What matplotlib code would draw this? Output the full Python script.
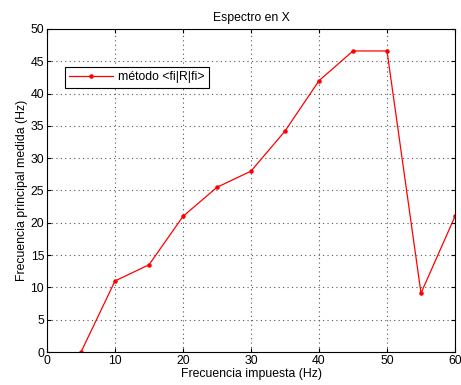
import matplotlib.pyplot as plt

# frecuencia impuesta vs frecuencia principal medida
freq_impuesta = [5, 10, 15, 20, 25, 30, 35, 40, 45, 50, 55, 60]
freq_medida = [0, 11, 13.5, 21, 25.5, 28, 34.2, 42, 46.6, 46.6, 9.1, 21]

plt.rcParams['font.family'] = 'Liberation Sans'
plt.rcParams['font.size'] = 8.8

fig = plt.figure(figsize=(4.61, 3.85), dpi=100)
ax = fig.add_axes([0.102, 0.0857, 0.885, 0.839])

ax.plot(freq_impuesta, freq_medida, color='red', linewidth=0.9,
        marker='.', markersize=4.5, label='método <fi|R|fi>')

ax.set_xlim(0, 60)
ax.set_ylim(0, 50)
ax.set_xticks(range(0, 61, 10))
ax.set_yticks(range(0, 51, 5))
ax.grid(True, linestyle=(0, (1, 3)), color='#555555', linewidth=0.8)
ax.tick_params(direction='in', length=3, top=True, right=True, pad=2)
for s in ax.spines.values():
    s.set_linewidth(0.8)

ax.set_title('Espectro en X', fontsize=8.8, pad=6)
ax.set_xlabel('Frecuencia impuesta (Hz)', labelpad=1)
ax.set_ylabel('Frecuencia principal medida (Hz)', labelpad=2)

leg = ax.legend(loc='upper left', bbox_to_anchor=(0.044, 0.882),
                borderaxespad=0, fancybox=False, edgecolor='black',
                framealpha=1, borderpad=0.35, handlelength=3.6,
                handletextpad=0.4, numpoints=1, fontsize=8.8)
leg.get_frame().set_linewidth(0.8)

fig.savefig('out.png', dpi=100)
